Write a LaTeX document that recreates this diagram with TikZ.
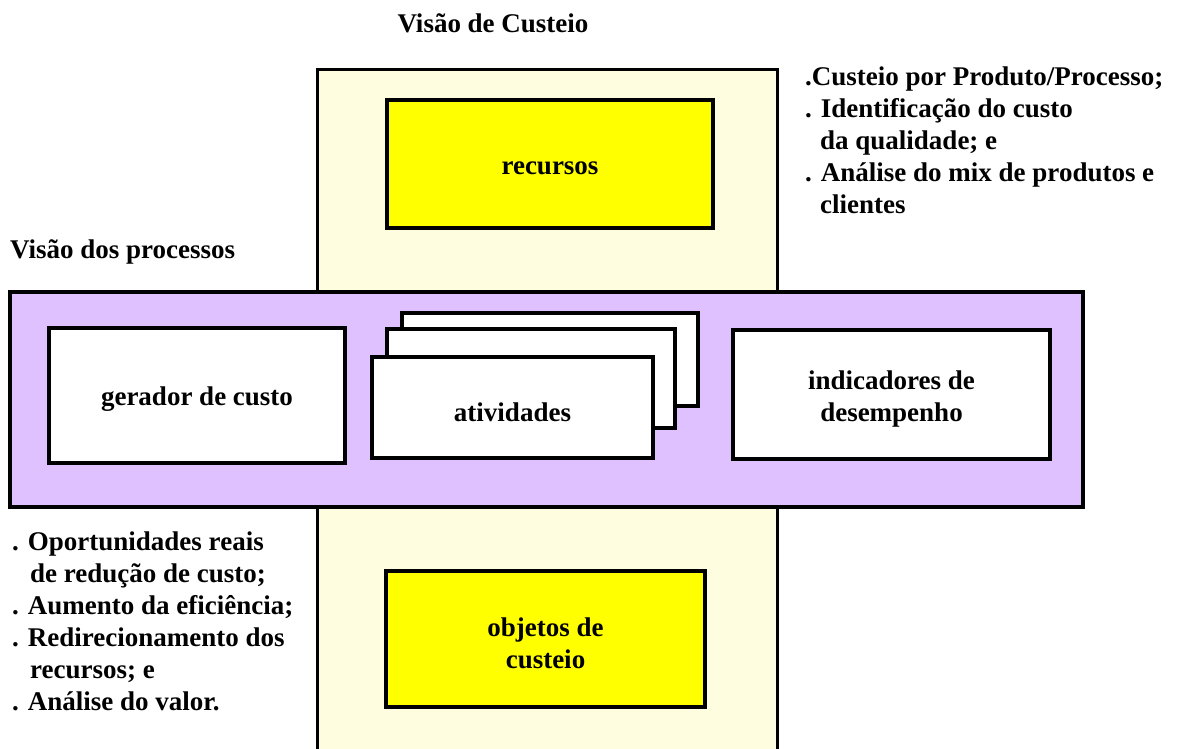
\documentclass[tikz,border=0pt]{standalone}
\usepackage{fontspec}
\setmainfont{Liberation Serif}
\definecolor{beige}{HTML}{FFFDE0}
\definecolor{lilac}{HTML}{DFC1FF}
\definecolor{yel}{HTML}{FFFF00}
\begin{document}
\begin{tikzpicture}[x=1pt,y=-1pt,
  txt/.style={font=\fontsize{27}{32}\selectfont\bfseries, inner sep=0pt},
  box/.style={draw=black, line width=4pt, fill=white, txt, align=center},
  ybox/.style={box, fill=yel},
  lst/.style={txt, align=left, anchor=north west}]
\useasboundingbox (0,0) rectangle (1178,749);
\clip (0,0) rectangle (1178,749);
\fill[white] (0,0) rectangle (1178,749);
% vertical costing band
\draw[fill=beige, line width=3pt] (317,70) rectangle (777,770);
\node[ybox, minimum width=326pt, minimum height=128pt] (rec) at (550,164) {};
\node[txt] at (550,168) {recursos};
\node[ybox, minimum width=319pt, minimum height=136pt] (obj) at (545.5,639) {};
\node[txt, align=center] at (545.5,643) {objetos de\\custeio};
% horizontal process band
\draw[fill=lilac, line width=4pt] (10,292) rectangle (1083,507);
\node[box, minimum width=296pt, minimum height=135pt] (ger) at (197,395.5) {};
\node[txt] at (197,399) {gerador de custo};
\node[box, minimum width=296pt, minimum height=93pt] (at3) at (550,359.5) {};
\node[box, minimum width=288pt, minimum height=99pt] (at2) at (531,378.5) {};
\node[box, minimum width=281pt, minimum height=101pt] (at1) at (512.5,407.5) {};
\node[txt] at (512.5,412) {atividades};
\node[box, minimum width=317pt, minimum height=129pt] (ind) at (891.5,394.5) {};
\node[txt, align=center] at (891.5,399) {indicadores de\\desempenho};
% titles
\node[txt] (t1) at (493,23) {Visão de Custeio};
\node[txt, anchor=west] (t2) at (10,252) {Visão dos processos};
% lists
\node[lst] (l1) at (805,67) {.Custeio por Produto/Processo;\\
. Identificação do custo\\
\hspace*{15pt}da qualidade; e\\
. Análise do mix de produtos e\\
\hspace*{15pt}clientes};
\node[lst] (l2) at (12,532) {. Oportunidades reais\\
\hspace*{18pt}de redução de custo;\\
. Aumento da eficiência;\\
. Redirecionamento dos\\
\hspace*{18pt}recursos; e\\
. Análise do valor.};
\end{tikzpicture}
\end{document}
